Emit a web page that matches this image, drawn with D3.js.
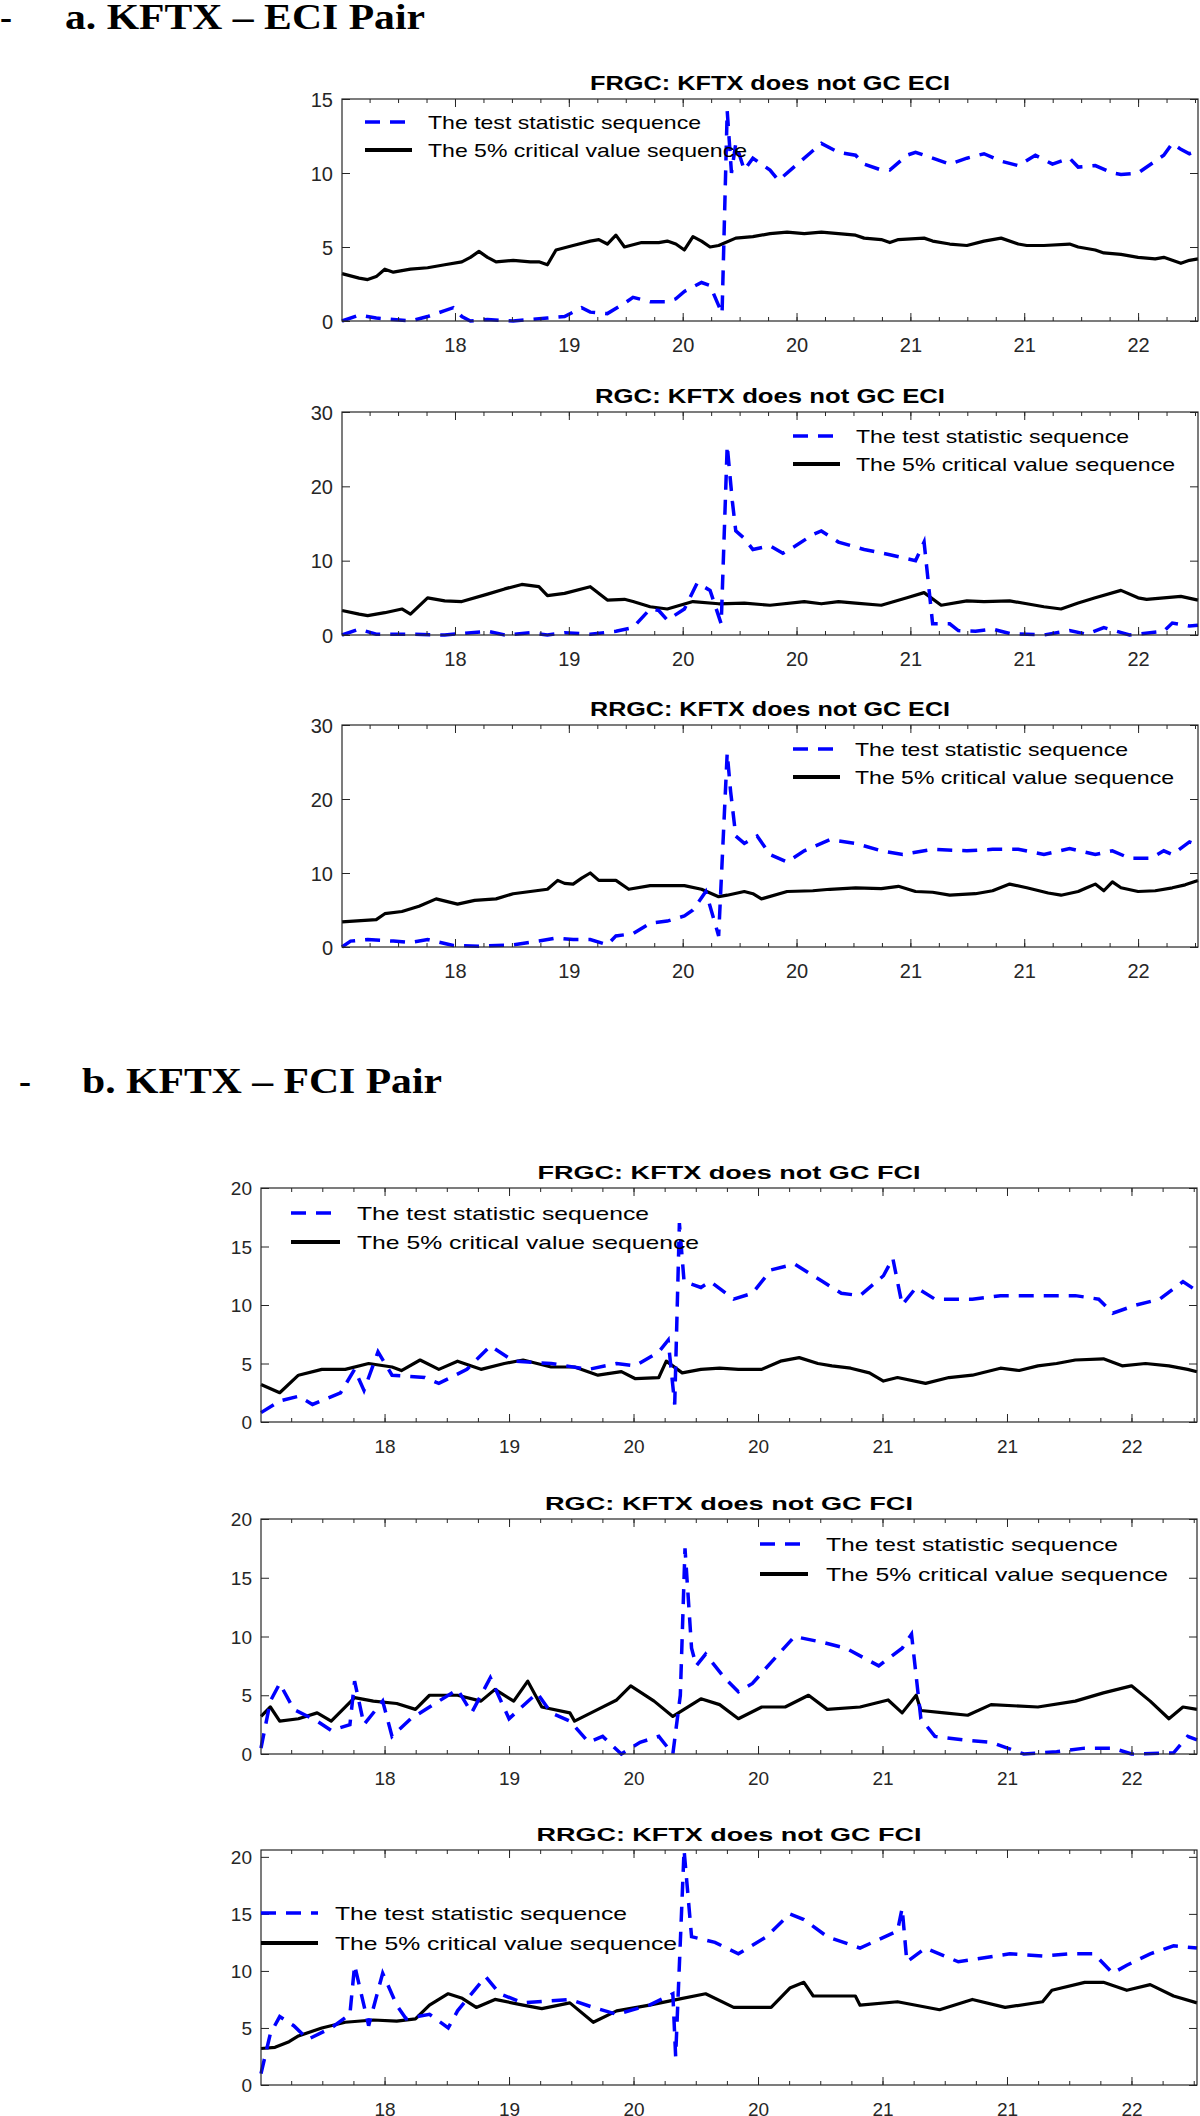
<!DOCTYPE html>
<html><head><meta charset="utf-8">
<script src="https://d3js.org/d3.v7.min.js"></script>
<style>body{margin:0;background:#fff}</style>
</head><body>
<svg id="c" width="1200" height="2116"></svg>
<script>
// x is an observation index 0..100; tick positions & labels
const xTickPos = [13.2, 26.5, 39.8, 53.1, 66.4, 79.7, 93.0];
const xTickLabels = ["18","19","20","20","21","21","22"];

// ---- a. KFTX – ECI ----
const a1Crit = [[0,3.2],[2,2.9],[3,2.8],[4,3.0],[5,3.5],[6,3.3],[8,3.5],[10,3.6],[12,3.8],[14,4.0],[15,4.3],[16,4.7],[17,4.3],[18,4.0],[20,4.1],[22,4.0],[23,4.0],[24,3.8],[25,4.8],[27,5.1],[29,5.4],[30,5.5],[31,5.2],[32,5.8],[33,5.0],[35,5.3],[37,5.3],[38,5.4],[39,5.2],[40,4.8],[41,5.7],[42,5.4],[43,5.0],[44,5.1],[46,5.6],[48,5.7],[50,5.9],[52,6.0],[54,5.9],[56,6.0],[58,5.9],[60,5.8],[61,5.6],[63,5.5],[64,5.3],[65,5.5],[68,5.6],[69,5.4],[71,5.2],[73,5.1],[75,5.4],[77,5.6],[79,5.2],[80,5.1],[82,5.1],[85,5.2],[86,5.0],[88,4.8],[89,4.6],[91,4.5],[93,4.3],[95,4.2],[96,4.3],[98,3.9],[99,4.1],[100,4.2]];
const a1Stat = [[0,0],[2,0.4],[4,0.2],[6,0.1],[8,0.0],[10,0.3],[12,0.7],[13,0.9],[14,0.3],[15,0],[17,0.1],[20,0],[24,0.2],[26,0.3],[28,0.9],[29,0.6],[31,0.5],[33,1.2],[34,1.6],[36,1.3],[38,1.3],[39,1.5],[40,2.0],[42,2.6],[43,2.4],[44.4,0.5],[45,14.2],[45.5,10.0],[46,12.0],[47,10.2],[48,11.0],[50,10.2],[51,9.5],[53,10.5],[55,11.5],[56,12.0],[58,11.4],[60,11.2],[61,10.6],[63,10.2],[64,10.2],[66,11.2],[67,11.4],[69,11.0],[71,10.6],[73,11.0],[75,11.3],[77,10.8],[79,10.5],[81,11.2],[83,10.6],[85,11.0],[86,10.4],[88,10.5],[90,10.0],[91,9.9],[93,10.0],[95,10.8],[96,11.2],[97,12.0],[98,11.6],[99,11.3],[100,11.5]];
const a2Crit = [[0,3.3],[2,2.8],[3,2.6],[5,3.0],[7,3.5],[8,2.8],[10,5.0],[12,4.6],[14,4.5],[17,5.5],[19,6.2],[21,6.8],[23,6.5],[24,5.3],[26,5.6],[29,6.5],[31,4.7],[33,4.8],[34,4.5],[36,3.8],[38,3.5],[41,4.5],[44,4.2],[47,4.3],[50,4.0],[54,4.5],[56,4.2],[58,4.5],[60,4.3],[63,4.0],[66,5.0],[68,5.7],[70,4.0],[73,4.6],[75,4.5],[78,4.6],[80,4.2],[82,3.8],[84,3.5],[86,4.3],[88,5.0],[91,6.0],[93,5.0],[94,4.8],[96,5.0],[98,5.2],[100,4.7]];
const a2Stat = [[0,0],[2,0.8],[4,0.1],[8,0.1],[12,0],[17,0.5],[19,0],[22,0.3],[24,0.0],[26,0.3],[29,0.1],[32,0.5],[34,1.0],[36,3.5],[37,3.3],[38,2.0],[40,3.5],[41.5,7.0],[43,6.0],[44.3,1.5],[45,25.5],[45.6,18],[46,14.0],[47,13.0],[48,11.5],[50,12.0],[51.5,11.0],[53,12.0],[55,13.5],[56,14.0],[58,12.5],[61,11.5],[64,10.8],[67,10.0],[68,12.5],[69,1.5],[71,1.5],[72,0.6],[74,0.5],[76,0.8],[78,0.2],[82,0.0],[85,0.6],[87,0.1],[89,1.0],[92,0.0],[96,0.5],[97,1.6],[99,1.2],[100,1.3]];
const a3Crit = [[0,3.4],[4,3.7],[5,4.5],[7,4.8],[9,5.5],[11,6.5],[13.5,5.8],[15.5,6.3],[18,6.5],[20,7.2],[22,7.5],[24,7.8],[25.2,9.0],[26,8.6],[27,8.5],[28,9.3],[29,10.0],[30,9.0],[32,9.0],[33.5,7.8],[36,8.3],[38,8.3],[40,8.3],[42,7.8],[44,6.8],[45,7.0],[47,7.5],[48,7.2],[49,6.5],[52,7.5],[55,7.6],[57,7.8],[60,8.0],[63,7.9],[65,8.2],[67,7.5],[69,7.4],[71,7.0],[74,7.2],[76,7.6],[78,8.5],[80,8.0],[82.5,7.3],[84,7.0],[86,7.5],[87,8.0],[88,8.5],[89,7.6],[90,8.8],[91,8.0],[93,7.5],[95,7.6],[97,8.0],[98.5,8.4],[100,9.0]];
const a3Stat = [[0,0],[1,0.8],[3,1.0],[6,0.8],[8,0.6],[10,1.0],[13,0.2],[16,0.1],[20,0.3],[23,0.8],[25,1.2],[27,1.0],[29,1.0],[31,0.3],[32,1.5],[34,1.8],[36,3.2],[38,3.5],[40,4.2],[41,5.0],[42.5,7.5],[44,1.5],[45,26.2],[45.4,21],[46,15.0],[47,14.0],[48.5,15.0],[50,12.5],[52,11.5],[54,13.0],[57,14.5],[60,14.0],[63,13.0],[65.5,12.5],[69,13.2],[73,13.0],[76,13.2],[79,13.2],[82,12.5],[85,13.3],[88,12.5],[90,13.0],[92,12.0],[94.5,12.0],[96,13.0],[97,12.5],[99,14.2],[100,13.8]];

// ---- b. KFTX – FCI ----
const b1Crit = [[0,3.2],[2,2.5],[4,4.0],[6.5,4.5],[9,4.5],[11.5,5.0],[14,4.7],[15,4.4],[17,5.3],[19,4.5],[21,5.2],[23.5,4.5],[26,5.0],[28,5.3],[31,4.7],[33.5,4.7],[36,4.0],[38.5,4.3],[40,3.7],[42.5,3.8],[43.3,5.2],[45,4.2],[47,4.5],[49,4.6],[51,4.5],[53.5,4.5],[55.5,5.2],[57.5,5.5],[59.5,5.0],[61,4.8],[63,4.6],[65,4.2],[66.5,3.5],[68,3.8],[71,3.3],[73.5,3.8],[76,4.0],[79,4.6],[81,4.4],[83,4.8],[85,5.0],[87,5.3],[90,5.4],[92,4.8],[94.5,5.0],[97,4.8],[99,4.5],[100,4.3]];
const b1Stat = [[0,0.8],[2,1.8],[4,2.2],[5.5,1.5],[8.5,2.5],[10,4.5],[11,2.7],[12.5,6.0],[14,4.0],[17.5,3.8],[19,3.3],[22,4.5],[24.5,6.5],[27,5.2],[31,5.0],[35,4.5],[38,5.0],[40,4.8],[42.5,6.0],[43.5,7.0],[44.2,1.5],[44.7,17.0],[45.2,12.0],[47,11.5],[48,12.0],[50.5,10.5],[52.5,11.0],[54.5,13.0],[57,13.5],[60,12.0],[62,11.0],[64,10.8],[66.5,12.5],[67.5,14.0],[68.5,10.0],[70,11.5],[72,10.5],[76,10.5],[79,10.8],[83,10.8],[87,10.8],[89.5,10.5],[91,9.3],[93.5,10.0],[96,10.5],[98.5,12.0],[100,11.2]];
const b2Crit = [[0,3.2],[1,4.0],[2,2.8],[4,3.0],[6,3.5],[7.5,2.8],[10,4.8],[12,4.5],[14.5,4.3],[16.5,3.8],[18,5.0],[21,5.0],[23.5,4.5],[25,5.5],[27,4.5],[28.5,6.2],[30,4.0],[33,3.5],[33.5,2.8],[36,3.8],[38,4.6],[39.5,5.8],[42,4.5],[44,3.2],[47,4.7],[49,4.2],[51,3.0],[53.5,4.0],[56,4.0],[58.5,5.0],[60.5,3.8],[64,4.0],[67,4.6],[68.5,3.5],[70,5.0],[70.5,3.7],[73,3.5],[75.5,3.3],[78,4.2],[83,4.0],[87,4.5],[90,5.2],[93,5.8],[95,4.5],[97,3.0],[98.5,4.0],[100,3.8]];
const b2Stat = [[0,0.5],[1,4.5],[2,6.0],[3.5,3.8],[6,2.8],[7.5,2.0],[9.5,2.5],[10,6.2],[11,2.5],[13,4.5],[14,1.5],[16,3.0],[18,4.0],[21,5.5],[22.5,3.5],[24.5,6.5],[26.5,3.0],[29.5,5.2],[31,3.5],[33,2.8],[35,1.0],[36.5,1.5],[38.5,0.0],[40.5,1.0],[42.5,1.5],[44,0.0],[44.8,5.0],[45.3,17.5],[46,9.0],[46.5,7.5],[47.5,8.5],[49.5,6.5],[51,5.3],[52.5,6.0],[54.5,7.8],[57,10.0],[60,9.5],[62.5,9.0],[66,7.5],[68.5,9.0],[69.5,10.2],[70.5,3.0],[72,1.5],[75,1.2],[78,1.0],[81.5,0.0],[85,0.2],[88,0.5],[91,0.5],[93,0.0],[97.5,0.1],[99,1.5],[100,1.2]];
const b3Crit = [[0,3.2],[1.5,3.3],[3,3.8],[4,4.3],[6.5,5.0],[9,5.5],[12,5.7],[14.5,5.6],[16.5,5.8],[18,7.0],[20,8.0],[21.5,7.6],[23,6.8],[25,7.5],[28,7.0],[30,6.7],[33,7.2],[35.5,5.5],[38,6.5],[41.5,7.0],[44.5,7.5],[47.5,8.0],[50.5,6.8],[54.5,6.8],[56.5,8.5],[58,9.0],[59,7.8],[63.5,7.8],[64,7.0],[68,7.3],[72.5,6.6],[76,7.5],[79.5,6.8],[83.5,7.3],[84.5,8.3],[88,9.0],[90,9.0],[92.5,8.3],[95,8.8],[97.5,7.8],[100,7.2]];
const b3Stat = [[0,1.0],[1,4.5],[2,6.0],[3.5,5.2],[5,4.0],[7.5,5.0],[9.5,6.2],[10,10.5],[11.5,5.2],[13,9.8],[14.5,7.0],[15.5,5.8],[18,6.2],[20,5.0],[21,6.5],[24,9.5],[25.5,8.0],[28,7.2],[33,7.5],[35.5,6.8],[38,6.2],[41.5,7.0],[44,8.0],[44.3,2.5],[45.2,20.6],[46,13.0],[48.5,12.5],[51,11.5],[54,13.0],[56.5,15.0],[58,14.5],[60.5,13.0],[64,12.0],[68,13.5],[68.5,15.5],[69,10.8],[71,12.0],[74.5,10.8],[80,11.5],[83.5,11.3],[86.5,11.5],[89,11.5],[91,9.8],[92.5,10.5],[95,11.5],[97.5,12.2],[100,12.0]];

const titles = ["FRGC: KFTX does not GC ECI","RGC: KFTX does not GC ECI","RRGC: KFTX does not GC ECI",
                "FRGC: KFTX does not GC FCI","RGC: KFTX does not GC FCI","RRGC: KFTX does not GC FCI"];
const legendLabels = ["The test statistic sequence","The 5% critical value sequence"];
const yTicksA1 = [0,5,10,15], yTicksA23 = [0,10,20,30], yTicksB = [0,5,10,15,20];

const svg = d3.select("#c");
const narrow = "'Liberation Sans Narrow','Arial Narrow','Liberation Sans',Arial,sans-serif";
const normal = "'Liberation Sans',Arial,sans-serif";

const panels = [
 {crit:a1Crit, stat:a1Stat, title:titles[0], top:99, bottom:321, left:342, right:1198, ymax:15, yt:yTicksA1, font:narrow, titleW:360, lg:{dx:365, dx2:412, tx:428, y1:122, y2:150, w1:273, w2:319}, fs:20, lfs:19},
 {crit:a2Crit, stat:a2Stat, title:titles[1], top:412, bottom:635, left:342, right:1198, ymax:30, yt:yTicksA23, font:narrow, titleW:350, lg:{dx:793, dx2:840, tx:856, y1:436, y2:464, w1:273, w2:319}, fs:20, lfs:19},
 {crit:a3Crit, stat:a3Stat, title:titles[2], top:725, bottom:947, left:342, right:1198, ymax:30, yt:yTicksA23, font:narrow, titleW:360, lg:{dx:793, dx2:840, tx:855, y1:749, y2:777, w1:273, w2:319}, fs:20, lfs:19},
 {crit:b1Crit, stat:b1Stat, title:titles[3], top:1188, bottom:1422, left:261, right:1197, ymax:20, yt:yTicksB, font:normal, titleW:383, lg:{dx:291, dx2:340, tx:357, y1:1213, y2:1242, w1:292, w2:342}, fs:19, lfs:19},
 {crit:b2Crit, stat:b2Stat, title:titles[4], top:1519, bottom:1754, left:261, right:1197, ymax:20, yt:yTicksB, font:normal, titleW:368, lg:{dx:760, dx2:808, tx:826, y1:1544, y2:1574, w1:292, w2:342}, fs:19, lfs:19},
 {crit:b3Crit, stat:b3Stat, title:titles[5], top:1850, bottom:2085, left:261, right:1197, ymax:20.6, yt:yTicksB, font:normal, titleW:385, lg:{dx:261, dx2:318, tx:335, y1:1913, y2:1943, w1:292, w2:342}, fs:19, lfs:19}
];

const axisCol = "#262626";
panels.forEach(p => {
  const x = d3.scaleLinear().domain([0,100]).range([p.left, p.right]);
  const y = d3.scaleLinear().domain([0,p.ymax]).range([p.bottom, p.top]);
  const g = svg.append("g");
  // data lines
  const line = d3.line().x(d=>x(d[0])).y(d=>y(d[1]));
  g.append("path").datum(p.crit).attr("d",line).attr("fill","none").attr("stroke","#000").attr("stroke-width",3.2).attr("stroke-linejoin","round");
  g.append("path").datum(p.stat).attr("d",line).attr("fill","none").attr("stroke","#0000ff").attr("stroke-width",3.5).attr("stroke-dasharray","15,10");
  // axes
  const minor = d3.range(0,100.001,3.33).map((v,i)=>xTickPos[0]-13.3*4+i*3.325).filter(v=>v>0.3&&v<99.7);
  const minorT = d3.range(-3,30).map(k=>xTickPos[0]+k*3.325).filter(v=>v>0.3&&v<99.7);
  [[p.bottom,-1],[p.top,1]].forEach(([yy,dir])=>{
    const ax = dir<0 ? d3.axisBottom(x) : d3.axisTop(x);
    const ga = g.append("g").attr("transform",`translate(0,${yy})`)
      .call(ax.tickValues(xTickPos).tickSize(-8*(dir<0?1:1)*(dir<0?1:-1)*(dir<0?1:1)).tickFormat((d,i)=>dir<0?xTickLabels[i]:""));
    ga.selectAll(".tick line").attr("y2", dir<0 ? -8 : 8);
    ga.selectAll(".tick text").attr("font-family",p.font).attr("font-size",p.fs).attr("fill",axisCol).attr("dy",null).attr("y",31);
    ga.select(".domain").remove();
    const gm = g.append("g").attr("transform",`translate(0,${yy})`).call((dir<0?d3.axisBottom(x):d3.axisTop(x)).tickValues(minorT).tickFormat(""));
    gm.selectAll(".tick line").attr("y2", dir<0 ? -4 : 4).attr("stroke",axisCol);
    gm.select(".domain").remove();
    ga.selectAll(".tick line").attr("stroke",axisCol);
  });
  [[p.left,-1],[p.right,1]].forEach(([xx,dir])=>{
    const ax = dir<0 ? d3.axisLeft(y) : d3.axisRight(y);
    const ga = g.append("g").attr("transform",`translate(${xx},0)`).call(ax.tickValues(p.yt).tickFormat(d=>dir<0?d:""));
    ga.selectAll(".tick line").attr("x2", dir<0 ? 8 : -8).attr("stroke",axisCol);
    ga.selectAll(".tick text").attr("font-family",p.font).attr("font-size",p.fs).attr("fill",axisCol).attr("x",-9).attr("dy","0.35em");
    ga.select(".domain").remove();
  });
  g.append("rect").attr("x",p.left).attr("y",p.top).attr("width",p.right-p.left).attr("height",p.bottom-p.top).attr("fill","none").attr("stroke",axisCol).attr("stroke-width",1.2);
  // title
  g.append("text").attr("x",(p.left+p.right)/2).attr("y",p.top-9).attr("text-anchor","middle")
    .attr("font-family",p.font).attr("font-weight","bold").attr("font-size",p.font===narrow?21:19)
    .attr("textLength",p.titleW).attr("lengthAdjust","spacingAndGlyphs").text(p.title);
  // legend
  const L = p.lg;
  g.append("line").attr("x1",L.dx).attr("x2",L.dx2).attr("y1",L.y1).attr("y2",L.y1).attr("stroke","#0000ff").attr("stroke-width",3.5).attr("stroke-dasharray","15,10");
  g.append("line").attr("x1",L.dx).attr("x2",L.dx2).attr("y1",L.y2).attr("y2",L.y2).attr("stroke","#000").attr("stroke-width",4);
  [[legendLabels[0],L.y1,L.w1],[legendLabels[1],L.y2,L.w2]].forEach(([t,yy,w])=>{
    g.append("text").attr("x",L.tx).attr("y",yy).attr("dy","0.35em").attr("font-family",p.font).attr("font-size",p.lfs)
      .attr("fill","#000").attr("textLength",w).attr("lengthAdjust","spacingAndGlyphs").text(t);
  });
});

// section headings
const serif = "'Liberation Serif','Times New Roman',serif";
[["-",0,29],["a. KFTX – ECI Pair",65,29],["-",19,1093],["b. KFTX – FCI Pair",82,1093]].forEach(([t,xx,yy])=>{
  const tx = svg.append("text").attr("x",xx).attr("y",yy).attr("font-family",serif).attr("font-weight","bold").attr("font-size",36).text(t);
  if(t.length>2) tx.attr("textLength",360).attr("lengthAdjust","spacingAndGlyphs");
});
</script>
</body></html>
